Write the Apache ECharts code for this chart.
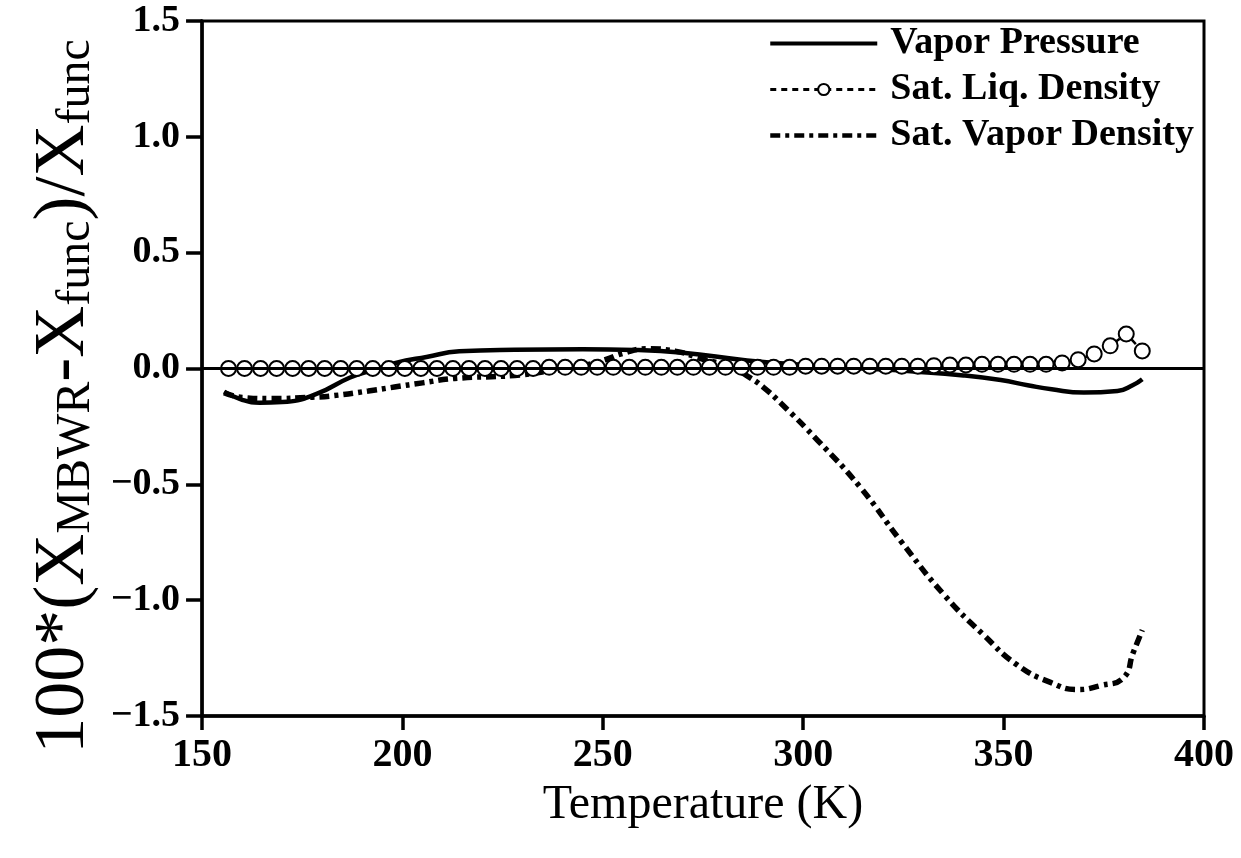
<!DOCTYPE html>
<html>
<head>
<meta charset="utf-8">
<script src="https://cdn.jsdelivr.net/npm/echarts@6/dist/echarts.min.js"></script>
<style>
  html, body { margin: 0; padding: 0; background: #fff; }
  #chart { width: 1241px; height: 858px; }
</style>
</head>
<body>
<div id="chart"></div>
<script>
// temperatures (K) and percent deviations
var vpTemp = [155.5, 160, 164.4, 170, 178.4, 186.8, 193, 198.3, 206, 214.2, 228, 245, 258, 270, 286, 303, 315, 327.6, 340, 349.3, 356, 362, 370, 378.4, 382.3, 384.6];
var vpDev  = [-0.10, -0.135, -0.148, -0.145, -0.111, -0.04, -0.005, 0.024, 0.05, 0.074, 0.081, 0.083, 0.08, 0.068, 0.035, 0.012, 0.0, -0.013, -0.03, -0.05, -0.072, -0.09, -0.104, -0.097, -0.071, -0.046];

var liqTemp = [156.6, 160.6, 164.6, 168.6, 172.6, 176.6, 180.6, 184.6, 188.6, 192.6, 196.6, 200.6, 204.6, 208.6, 212.6, 216.6, 220.6, 224.6, 228.6, 232.6,
               236.6, 240.6, 244.6, 248.6, 252.6, 256.6, 260.6, 264.6, 268.6, 272.6, 276.6, 280.6, 284.6, 288.6, 292.6, 296.6, 300.6, 304.6, 308.6, 312.6,
               316.6, 320.6, 324.6, 328.6, 332.6, 336.6, 340.6, 344.6, 348.6, 352.6, 356.6, 360.6, 364.6, 368.6, 372.6, 376.6, 380.6, 384.6];
var liqDev  = [0, 0, 0, 0, 0, 0, 0, 0, 0, 0, 0, 0, 0, 0, 0, 0, 0, 0, 0, 0,
               0.005, 0.005, 0.005, 0.005, 0.005, 0.005, 0.005, 0.005, 0.005, 0.005, 0.005, 0.005, 0.005, 0.005, 0.005, 0.005, 0.01, 0.01, 0.01, 0.01,
               0.01, 0.01, 0.01, 0.01, 0.012, 0.015, 0.015, 0.018, 0.018, 0.018, 0.018, 0.018, 0.024, 0.038, 0.063, 0.098, 0.149, 0.076];

var vapTemp = [155.5, 160, 167, 177.5, 183, 191.5, 198, 205, 213, 228, 236, 243, 250, 255, 261, 268, 275, 282, 286.3, 290, 294.5, 303.7, 314.4, 324.4, 335.1, 345, 353.5, 361.7, 368.4, 374.1, 379.9, 382.3, 384.6];
var vapDev  = [-0.105, -0.125, -0.13, -0.124, -0.117, -0.097, -0.08, -0.062, -0.043, -0.03, -0.012, 0.005, 0.035, 0.065, 0.085, 0.075, 0.04, 0.007, -0.035, -0.08, -0.151, -0.312, -0.516, -0.746, -0.976, -1.15, -1.281, -1.355, -1.386, -1.369, -1.335, -1.228, -1.129];

var seriesNames = ['Vapor Pressure', 'Sat. Liq. Density', 'Sat. Vapor Density'];

function pairs(xs, ys) {
  var out = [];
  for (var i = 0; i < xs.length; i++) out.push([xs[i], ys[i]]);
  return out;
}

var serif = '"Liberation Serif", "DejaVu Serif", serif';

var chart = echarts.init(document.getElementById('chart'));
chart.setOption({
  animation: false,
  backgroundColor: '#fff',
  grid: { left: 199, right: 37, top: 21, bottom: 142, show: true, borderColor: '#000', borderWidth: 3 },
  legend: {
    orient: 'vertical',
    left: 763,
    top: 18,
    itemWidth: 107,
    itemHeight: 14,
    itemGap: 5,
    data: [
      { name: seriesNames[0], itemStyle: { opacity: 0 }, lineStyle: { width: 4 } },
      { name: seriesNames[1], lineStyle: { width: 3 } },
      { name: seriesNames[2], itemStyle: { opacity: 0 }, lineStyle: { width: 4.5 } }
    ],
    textStyle: { fontFamily: serif, fontWeight: 'bold', fontSize: 38, color: '#000', lineHeight: 41, padding: [0, 0, 0, 8] }
  },
  xAxis: {
    type: 'value',
    min: 150, max: 400, interval: 50,
    name: 'Temperature (K)',
    nameLocation: 'middle',
    nameGap: 64,
    nameTextStyle: { fontFamily: serif, fontSize: 48, color: '#000', verticalAlign: 'top' },
    axisLine: { onZero: false, lineStyle: { color: '#000', width: 3.5 } },
    axisTick: { length: 14, lineStyle: { color: '#000', width: 3.5 } },
    axisLabel: { margin: 20, fontFamily: serif, fontWeight: 'bold', fontSize: 40, color: '#000' },
    splitLine: { show: false }
  },
  yAxis: {
    type: 'value',
    min: -1.5, max: 1.5, interval: 0.5,
    name: '{m|100*(X}{s|MBWR}{m|-X}{s|func}{m|)/X}{s|func}',
    nameLocation: 'middle',
    nameRotate: 90,
    nameGap: 97,
    nameTextStyle: {
      padding: [0, 56, 0, 0],
      rich: {
        m: { fontFamily: serif, fontSize: 72, lineHeight: 72, color: '#000', verticalAlign: 'top' },
        s: { fontFamily: serif, fontSize: 48, lineHeight: 48, color: '#000', verticalAlign: 'bottom', padding: [44, 0, 0, 0] }
      }
    },
    axisLine: { onZero: false, lineStyle: { color: '#000', width: 3.5 } },
    axisTick: { length: 16, lineStyle: { color: '#000', width: 3.5 } },
    axisLabel: {
      margin: 22, fontFamily: serif, fontWeight: 'bold', fontSize: 38, color: '#000',
      formatter: function (v) { return (v < 0 ? '\u2212' : '') + Math.abs(v).toFixed(1); }
    },
    splitLine: { show: false }
  },
  series: [
    {
      name: seriesNames[0],
      type: 'line',
      data: pairs(vpTemp, vpDev),
      smooth: true,
      symbol: 'none',
      color: '#000',
      lineStyle: { color: '#000', width: 4.5 },
      markLine: {
        silent: true,
        symbol: 'none',
        label: { show: false },
        lineStyle: { color: '#000', width: 3, type: 'solid' },
        data: [{ yAxis: 0 }]
      },
      z: 3
    },
    {
      name: seriesNames[1],
      type: 'line',
      data: pairs(liqTemp, liqDev),
      symbol: 'emptyCircle',
      symbolSize: 15,
      color: '#000',
      itemStyle: { color: '#000', borderColor: '#000', borderWidth: 3.5 },
      lineStyle: { color: '#000', width: 2.5, type: [6, 5] },
      z: 4
    },
    {
      name: seriesNames[2],
      type: 'line',
      data: pairs(vapTemp, vapDev),
      smooth: true,
      symbol: 'none',
      color: '#000',
      lineStyle: { color: '#000', width: 5.5, type: [10, 5, 4, 5] },
      z: 2
    }
  ]
});
</script>
</body>
</html>
